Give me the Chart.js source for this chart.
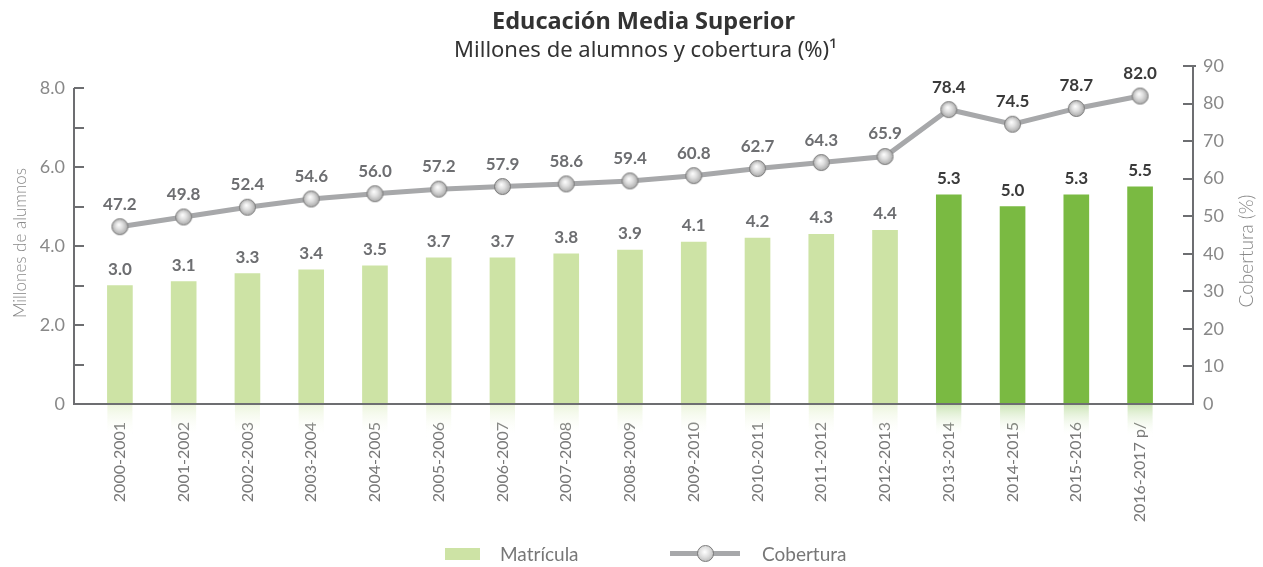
<!DOCTYPE html>
<html>
<head>
<meta charset="utf-8">
<script src="https://cdn.jsdelivr.net/npm/chart.js@4"></script>
<style>
  html, body { margin: 0; padding: 0; background: #fff; }
  #wrap { position: relative; width: 1263px; height: 567px; font-family: Lato, sans-serif; overflow: hidden; }
  #chart { position: absolute; left: 0; top: 0; }
  .title { position: absolute; left: 0; width: 1263px; text-align: center; color: #333; white-space: nowrap; font-family: "Noto Sans", sans-serif; }
  #t1 { left: 12px; top: 5px; font-size: 23.5px; line-height: 30px; font-weight: bold; }
  #t2 { left: 14px; top: 35px; font-size: 22px; line-height: 26px; }
  .leg { position: absolute; color: #777; font-size: 19px; line-height: 24px; }
  #legBar { left: 445px; top: 548px; width: 35px; height: 12px; background: #cde3a5; }
  #legLine { left: 670px; top: 551px; width: 70px; height: 5px; background: #a7a8aa; }
  #legDot { left: 697px; top: 545px; width: 15px; height: 15px; border-radius: 50%; border: 1px solid #7a7a7a;
            background: radial-gradient(circle at 45% 40%, #ffffff 0%, #dcdcdc 45%, #a9a9a9 100%); }
</style>
</head>
<body>
<div id="wrap">
  <canvas id="chart" width="1263" height="567"></canvas>
  <div class="title" id="t1">Educación Media Superior</div>
  <div class="title" id="t2">Millones de alumnos y cobertura (%)¹</div>
  <div class="leg" id="legBar"></div>
  <div class="leg" style="left:500px;top:542px;">Matrícula</div>
  <div class="leg" id="legLine"></div>
  <div class="leg" id="legDot"></div>
  <div class="leg" style="left:762px;top:542px;">Cobertura</div>
</div>
<script>
const periods = ["2000-2001", "2001-2002", "2002-2003", "2003-2004", "2004-2005", "2005-2006",
  "2006-2007", "2007-2008", "2008-2009", "2009-2010", "2010-2011", "2011-2012", "2012-2013",
  "2013-2014", "2014-2015", "2015-2016", "2016-2017 p/"];
const matricula = [3.0, 3.1, 3.3, 3.4, 3.5, 3.7, 3.7, 3.8, 3.9, 4.1, 4.2, 4.3, 4.4, 5.3, 5.0, 5.3, 5.5];
const cobertura = [47.2, 49.8, 52.4, 54.6, 56.0, 57.2, 57.9, 58.6, 59.4, 60.8, 62.7, 64.3, 65.9, 78.4, 74.5, 78.7, 82.0];
const leftTicks = [0, 1, 2, 3, 4, 5, 6, 7, 8];
const rightTicks = [0, 10, 20, 30, 40, 50, 60, 70, 80, 90];
const firstRecent = 13; // from 2013-2014 bars are dark green

const lightGreen = "#cde3a5";
const darkGreen = "#7aba42";
const axisColor = "#6d6e71";

// sphere marker for the Cobertura line
function makeSphere(r) {
  const c = document.createElement("canvas");
  const s = r * 2 + 2;
  c.width = s; c.height = s;
  const g = c.getContext("2d");
  const cx = s / 2, cy = s / 2;
  const grad = g.createRadialGradient(cx - r * 0.15, cy - r * 0.25, 0, cx, cy, r);
  grad.addColorStop(0, "#ffffff");
  grad.addColorStop(0.45, "#dedede");
  grad.addColorStop(1, "#a5a5a5");
  g.beginPath();
  g.arc(cx, cy, r - 0.5, 0, Math.PI * 2);
  g.fillStyle = grad;
  g.fill();
  g.lineWidth = 1;
  g.strokeStyle = "#7a7a7a";
  g.stroke();
  return c;
}
const sphere = makeSphere(8.5);

const decor = {
  id: "decor",
  afterDatasetsDraw(chart) {
    const { ctx, chartArea, scales } = chart;
    const yL = scales.y, yR = scales.y1;
    const base = yL.getPixelForValue(0);
    const bars = chart.getDatasetMeta(1).data;
    const points = chart.getDatasetMeta(0).data;
    ctx.save();

    // bar fade below the axis
    bars.forEach((el, i) => {
      const col = i >= firstRecent ? darkGreen : lightGreen;
      const g = ctx.createLinearGradient(0, base, 0, base + 34);
      g.addColorStop(0, col);
      g.addColorStop(1, "rgba(255,255,255,0)");
      ctx.globalAlpha = 0.4;
      ctx.fillStyle = g;
      ctx.fillRect(el.x - el.width / 2, base, el.width, 34);
    });
    ctx.globalAlpha = 1;

    // axes
    ctx.strokeStyle = axisColor;
    ctx.lineWidth = 2;
    ctx.beginPath();
    ctx.moveTo(chartArea.left, yL.getPixelForValue(8));
    ctx.lineTo(chartArea.left, base);
    ctx.lineTo(chartArea.right, base);
    ctx.lineTo(chartArea.right, yR.getPixelForValue(90));
    ctx.stroke();
    ctx.beginPath();
    leftTicks.forEach(v => {
      const y = Math.round(yL.getPixelForValue(v));
      ctx.moveTo(chartArea.left, y);
      ctx.lineTo(chartArea.left + 10, y);
    });
    rightTicks.forEach(v => {
      const y = Math.round(yR.getPixelForValue(v));
      ctx.moveTo(chartArea.right - 10, y);
      ctx.lineTo(chartArea.right + (v === 90 ? 3 : 0), y);
    });
    ctx.stroke();

    // axis titles
    ctx.fillStyle = "#888";
    ctx.textAlign = "center";
    ctx.textBaseline = "middle";
    [["Millones de alumnos", 21, 243, 17], ["Cobertura (%)", 1247, 251, 19]].forEach(([t, x, y, size]) => {
      ctx.save();
      ctx.font = "300 " + size + "px Lato";
      ctx.translate(x, y);
      ctx.rotate(-Math.PI / 2);
      ctx.fillText(t, 0, 0);
      ctx.restore();
    });

    // value labels
    ctx.font = "bold 17px Lato";
    ctx.textBaseline = "bottom";
    bars.forEach((el, i) => {
      ctx.fillStyle = i >= firstRecent ? "#3a3a3a" : "#6d6e71";
      ctx.fillText(matricula[i].toFixed(1), el.x, el.y - 8);
    });
    points.forEach((el, i) => {
      ctx.fillStyle = i >= firstRecent ? "#3a3a3a" : "#6d6e71";
      ctx.fillText(cobertura[i].toFixed(1), el.x, el.y - 14);
    });
    ctx.restore();
  }
};

new Chart(document.getElementById("chart"), {
  type: "bar",
  data: {
    datasets: [
      {
        type: "line",
        label: "Cobertura",
        data: cobertura.map((v, i) => ({ x: i, y: v })),
        yAxisID: "y1",
        borderColor: "#a7a8aa",
        borderWidth: 5,
        pointStyle: sphere,
        pointRadius: 9,
        tension: 0,
        order: 0
      },
      {
        type: "bar",
        label: "Matrícula",
        data: matricula.map((v, i) => ({ x: i, y: v })),
        yAxisID: "y",
        backgroundColor: matricula.map((_, i) => i >= firstRecent ? darkGreen : lightGreen),
        barThickness: 25,
        order: 1
      }
    ]
  },
  options: {
    responsive: false,
    animation: false,
    layout: { padding: { top: 66, left: 0, right: 0, bottom: 0 } },
    plugins: {
      legend: { display: false },
      tooltip: { enabled: false }
    },
    scales: {
      x: {
        type: "linear",
        offset: false,
        min: -0.72,
        max: 16.83,
        grid: { display: false, offset: false },
        border: { display: false },
        afterBuildTicks: s => { s.ticks = periods.map((_, i) => ({ value: i })); },
        afterFit: s => { s.height = 163; s.paddingLeft = 0; s.paddingRight = 0; },
        ticks: {
          autoSkip: false,
          minRotation: 90,
          maxRotation: 90,
          padding: 10,
          color: "#777",
          font: { family: "Lato", size: 16 },
          callback: v => periods[v]
        }
      },
      y: {
        position: "left",
        min: 0,
        max: 8.56,
        grid: { display: false },
        border: { display: false },
        afterBuildTicks: s => { s.ticks = leftTicks.filter(v => v % 2 === 0).map(v => ({ value: v })); },
        afterFit: s => { s.width = 74; },
        ticks: {
          padding: 1,
          color: "#888",
          font: { family: "Lato", size: 18 },
          callback: v => v === 0 ? "0" : v.toFixed(1)
        }
      },
      y1: {
        position: "right",
        min: 0,
        max: 90,
        grid: { display: false },
        border: { display: false },
        afterBuildTicks: s => { s.ticks = rightTicks.map(v => ({ value: v })); },
        afterFit: s => { s.width = 70; },
        ticks: {
          padding: 2,
          color: "#888",
          font: { family: "Lato", size: 18 },
          callback: v => String(v)
        }
      }
    }
  },
  plugins: [decor]
});
</script>
</body>
</html>
